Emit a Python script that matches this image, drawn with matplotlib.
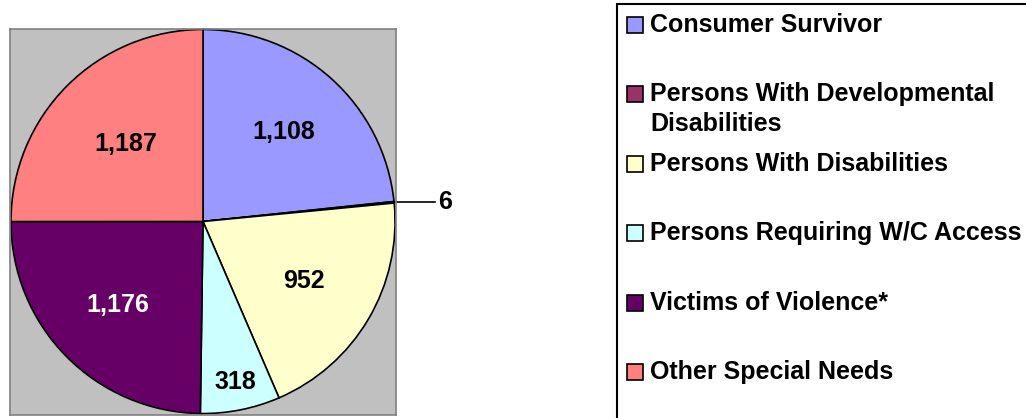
import numpy as np
import matplotlib.pyplot as plt
from matplotlib.patches import Rectangle

plt.rcParams['font.family'] = ['Liberation Sans', 'DejaVu Sans']

categories = ["Consumer Survivor",
              "Persons With Developmental\nDisabilities",
              "Persons With Disabilities",
              "Persons Requiring W/C Access",
              "Victims of Violence*",
              "Other Special Needs"]
values = [1108, 6, 952, 318, 1176, 1187]
colors = ["#9999FF", "#993366", "#FFFFCC", "#CCFFFF", "#660066", "#FF8080"]
label_colors = ["black", "black", "black", "black", "white", "black"]
# radial position of each value label (None = outside with leader line)
label_radius = [0.63, None, 0.61, 0.85, 0.62, 0.57]

fig = plt.figure(figsize=(10.26, 4.18), dpi=100)

# pie plot area
ax = fig.add_axes([10 / 1026, 3 / 418, 386 / 1026, 387 / 418])
wedges, _ = ax.pie(values, colors=colors, startangle=90, counterclock=False,
                   frame=True,
                   wedgeprops=dict(edgecolor="black", linewidth=1.2))
ax.set_xlim(-1.005, 1.005)
ax.set_ylim(-1.005, 1.005)
ax.set_xticks([])
ax.set_yticks([])
ax.set_facecolor("#C0C0C0")
for sp in ax.spines.values():
    sp.set_color("#808080")
    sp.set_linewidth(1.2)

for w, v, r, tc in zip(wedges, values, label_radius, label_colors):
    mid = np.deg2rad((w.theta1 + w.theta2) / 2)
    txt = f"{v:,}"
    if r is None:
        x0, y0 = np.cos(mid), np.sin(mid)
        ax.plot([x0, 1.21], [y0, y0], color="black", lw=1.2, clip_on=False)
        ax.text(1.225, y0, txt, ha="left", va="center", fontsize=18,
                fontweight="bold", color=tc, clip_on=False)
    else:
        ax.text(r * np.cos(mid), r * np.sin(mid), txt, ha="center", va="center",
                fontsize=18, fontweight="bold", color=tc)

# legend drawn in pixel coordinates
lax = fig.add_axes([0, 0, 1, 1])
lax.set_xlim(0, 1026)
lax.set_ylim(418, 0)
lax.axis("off")
lax.add_patch(Rectangle((617, 4), 430, 430, facecolor="white",
                        edgecolor="black", linewidth=1.5))
row_gap = 69.4
line_gap = 30
for i, (lab, c) in enumerate(zip(categories, colors)):
    yc = 25 + i * row_gap
    lax.add_patch(Rectangle((627, yc - 8), 16, 16, facecolor=c,
                            edgecolor="black", linewidth=1.2))
    for k, line in enumerate(lab.split("\n")):
        lax.text(650, yc + k * line_gap, line, ha="left", va="center",
                 fontsize=18, fontweight="bold", color="black")

fig.savefig("out.png", dpi=100)
